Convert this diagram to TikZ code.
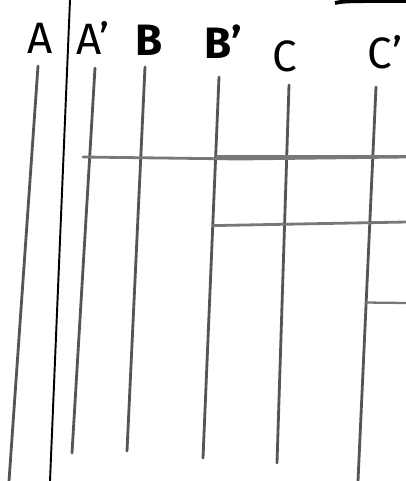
\documentclass[tikz,border=0pt]{standalone}
\usepackage{fontspec}
\setsansfont{Fira Sans}
\usepackage{xcolor}
\usepackage{tikz}
\usetikzlibrary{positioning, calc}
\definecolor{pencilgray}{RGB}{85, 85, 88}
\definecolor{pencillight}{RGB}{120, 120, 122}

\begin{document}
\begin{tikzpicture}[x=0.02cm, y=-0.02cm,
    pencil/.style={draw=pencilgray, line width=1.6pt, line cap=round},
    rung/.style={draw=pencillight, line width=1.6pt, line cap=round},
    divider/.style={draw=black, line width=1.1pt},
    tag/.style={font=\sffamily\fontsize{25}{30}\selectfont, inner sep=0pt}]
  \useasboundingbox (0,0) rectangle (406,481);
  % labels
  \node[tag] (la) at (40,38) {A};
  \node[tag] (lap) at (93,38) {A'};
  \node[tag] (lb) at (149,40) {\textbf{B}};
  \node[tag] (lbp) at (223,42) {\textbf{B'}};
  \node[tag] (lc) at (285,56) {C};
  \node[tag] (lcp) at (385,52) {C'};
  % line ends
  \coordinate (at) at (38,66);   \coordinate (ab) at (9,481);
  \coordinate (apt) at (95,68);  \coordinate (apb) at (72,453);
  \coordinate (bt) at (145,67);  \coordinate (bb) at (127,451);
  \coordinate (bpt) at (219,77); \coordinate (bpb) at (203,458);
  \coordinate (ct) at (289,85);  \coordinate (cb) at (277,463);
  \coordinate (cpt) at (376,87); \coordinate (cpb) at (358,481);
  \draw[pencil] (at) -- (ab);
  \draw[pencil] (apt) -- (apb);
  \draw[pencil] (bt) -- (bb);
  \draw[pencil] (bpt) -- (bpb);
  \draw[pencil] (ct) -- (cb);
  \draw[pencil] (cpt) -- (cpb);
  % divider and top bar
  \draw[divider] (70,0) -- (50,481);
  \draw[black, line width=2.2pt] (335,3) .. controls (345,1) .. (406,1);
  % rungs
  \coordinate (r1) at (83,157);
  \coordinate (r2) at ($(bpt)!0.39!(bpb)$);
  \coordinate (r3) at ($(cpt)!0.547!(cpb)$);
  \draw[rung] (r1) -- (240,159) -- (406,157);
  \draw[rung, line width=2.2pt] (218,156.5) -- (406,156.5);
  \draw[rung] (r2) -- (406,222);
  \draw[rung, line width=1.3pt] (r3) -- (406,303);
\end{tikzpicture}
\end{document}
